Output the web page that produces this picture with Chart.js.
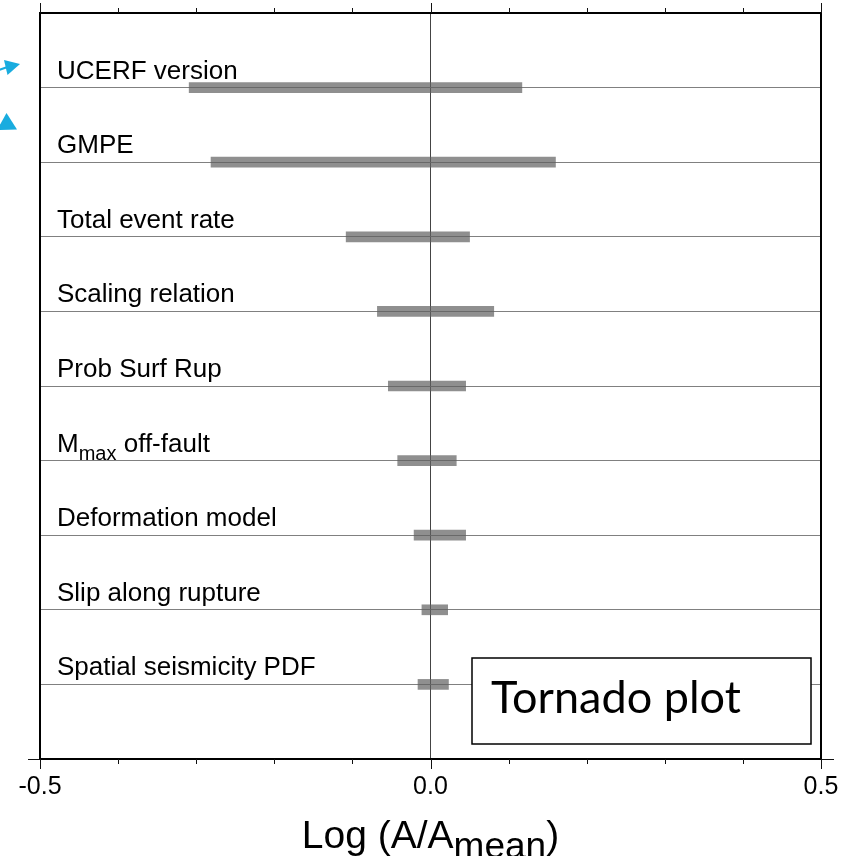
<!DOCTYPE html>
<html>
<head>
<meta charset="utf-8">
<script src="https://cdn.jsdelivr.net/npm/chart.js@4.4.1/dist/chart.umd.min.js"></script>
<style>
  html, body { margin: 0; padding: 0; background: #fff; }
  #wrap { width: 861px; height: 856px; position: relative; }
</style>
</head>
<body>
<div id="wrap"><canvas id="tornado"></canvas></div>
<script>
// factors, top to bottom; "_{...}" marks a subscript
const factors    = ['UCERF version', 'GMPE', 'Total event rate', 'Scaling relation', 'Prob Surf Rup',
                    'M_{max} off-fault', 'Deformation model', 'Slip along rupture', 'Spatial seismicity PDF'];
const lowValues  = [-0.309, -0.281, -0.108, -0.068, -0.054, -0.042, -0.021, -0.011, -0.016];
const highValues = [ 0.117,  0.160,  0.050,  0.081,  0.045,  0.033,  0.045,  0.022,  0.023];
const tickLabels = ['-0.5', '0.0', '0.5'];

const FONT = '"Liberation Sans", Arial, sans-serif';

// empty slot above and below so the rows sit on whole steps of the frame
const rowLabels = ['', ...factors, ''];
const spans     = [null, ...factors.map((_, i) => [lowValues[i], highValues[i]]), null];

const isZero = v => Math.abs(v) < 1e-9;
const tickText = v => { const s = (+v).toFixed(1); return s === '-0.0' ? '0.0' : s; };

function drawRich(ctx, text, x, y, size) {
    // split "M_{max} off-fault" into normal and lowered pieces
    const parts = text.split(/(_\{[^}]*\})/).filter(Boolean);
    ctx.textBaseline = 'alphabetic';
    ctx.textAlign = 'left';
    parts.forEach(p => {
        const sub = p.startsWith('_{');
        const t = sub ? p.slice(2, -1) : p;
        ctx.font = `${sub ? Math.round(size * 0.78) : size}px ${FONT}`;
        ctx.fillText(t, x, sub ? y + Math.round(size * 0.3) : y);
        x += ctx.measureText(t).width;
    });
}

const framePlugin = {
    id: 'frame',
    afterDraw(chart) {
        const { ctx, chartArea: a, scales: { x, y } } = chart;
        ctx.save();

        // legend box, sits over the last row line
        ctx.fillStyle = '#fff';
        ctx.strokeStyle = '#000';
        ctx.lineWidth = 1.5;
        ctx.fillRect(472, 658, 339, 86);
        ctx.strokeRect(472, 658, 339, 86);
        ctx.fillStyle = '#000';
        ctx.font = '45px Lato, "Open Sans", sans-serif';
        ctx.textBaseline = 'alphabetic';
        ctx.fillText('Tornado plot', 491, 713);

        // frame
        ctx.lineWidth = 2;
        ctx.strokeRect(a.left, a.top, a.right - a.left, a.bottom - a.top);

        // tick marks on top and bottom, pointing out
        ctx.lineWidth = 1;
        ctx.strokeStyle = '#111';
        x.ticks.forEach(t => {
            const px = Math.round(x.getPixelForValue(t.value)) + 0.5;
            const major = tickLabels.includes(tickText(t.value));
            const len = major ? 10 : 5;
            ctx.beginPath();
            ctx.moveTo(px, a.top); ctx.lineTo(px, a.top - len);
            ctx.moveTo(px, a.bottom); ctx.lineTo(px, a.bottom + len);
            ctx.stroke();
        });
        ctx.beginPath();
        ctx.moveTo(a.left - 12, a.bottom + 0.5); ctx.lineTo(a.left, a.bottom + 0.5);
        ctx.moveTo(a.right, a.bottom + 0.5); ctx.lineTo(a.right + 13, a.bottom + 0.5);
        ctx.stroke();

        // row names above their lines
        ctx.fillStyle = '#000';
        factors.forEach((name, i) => drawRich(ctx, name, a.left + 17, y.getPixelForValue(i + 1) - 9, 26));

        // axis title with subscript
        const main = 39, sub = 37;
        ctx.font = `${main}px ${FONT}`;
        const w1 = ctx.measureText('Log (A/A').width, w3 = ctx.measureText(')').width;
        ctx.font = `${sub}px ${FONT}`;
        const w2 = ctx.measureText('mean').width;
        let tx = (a.left + a.right) / 2 - (w1 + w2 + w3) / 2;
        const ty = 848;
        ctx.font = `${main}px ${FONT}`;
        ctx.fillText('Log (A/A', tx, ty); tx += w1;
        ctx.font = `${sub}px ${FONT}`;
        ctx.fillText('mean', tx, ty + 10); tx += w2;
        ctx.font = `${main}px ${FONT}`;
        ctx.fillText(')', tx, ty);

        // two pointer arrows at the left edge
        ctx.fillStyle = '#19acdf';
        ctx.strokeStyle = '#19acdf';
        ctx.lineWidth = 2;
        ctx.beginPath(); ctx.moveTo(-4, 71); ctx.lineTo(9, 66.5); ctx.stroke();
        ctx.beginPath(); ctx.moveTo(4, 60); ctx.lineTo(20, 64); ctx.lineTo(7.5, 75); ctx.closePath(); ctx.fill();
        ctx.beginPath(); ctx.moveTo(-4, 126); ctx.lineTo(6, 124.5); ctx.stroke();
        ctx.beginPath(); ctx.moveTo(6.5, 113); ctx.lineTo(17, 129.5); ctx.lineTo(-3, 130); ctx.closePath(); ctx.fill();

        ctx.restore();
    }
};

new Chart(document.getElementById('tornado'), {
    type: 'bar',
    data: {
        labels: rowLabels,
        datasets: [{
            data: spans,
            backgroundColor: 'rgba(95,95,95,0.7)',
            borderWidth: 0,
            borderSkipped: false,
            barThickness: 10
        }]
    },
    options: {
        indexAxis: 'y',
        responsive: true,
        maintainAspectRatio: false,
        animation: false,
        events: [],
        layout: { padding: { left: 40, right: 40, top: 13, bottom: 0 } },
        plugins: { legend: { display: false }, tooltip: { enabled: false } },
        scales: {
            x: {
                type: 'linear',
                min: -0.5,
                max: 0.5,
                afterFit: s => { s.height = 97; },
                border: { display: false },
                grid: {
                    drawTicks: false,
                    lineWidth: 1,
                    color: c => (c.tick && isZero(c.tick.value)) ? '#444' : 'rgba(0,0,0,0)'
                },
                ticks: {
                    stepSize: 0.1,
                    autoSkip: false,
                    maxRotation: 0,
                    padding: 13,
                    color: '#000',
                    font: { family: FONT, size: 25 },
                    callback: v => tickLabels.includes(tickText(v)) ? tickText(v) : ''
                }
            },
            y: {
                type: 'category',
                offset: false,
                afterFit: s => { s.width = 0; },
                border: { display: false },
                grid: { offset: false, drawTicks: false, color: '#808080', lineWidth: 1 },
                ticks: { display: false }
            }
        }
    },
    plugins: [framePlugin]
});
</script>
</body>
</html>
